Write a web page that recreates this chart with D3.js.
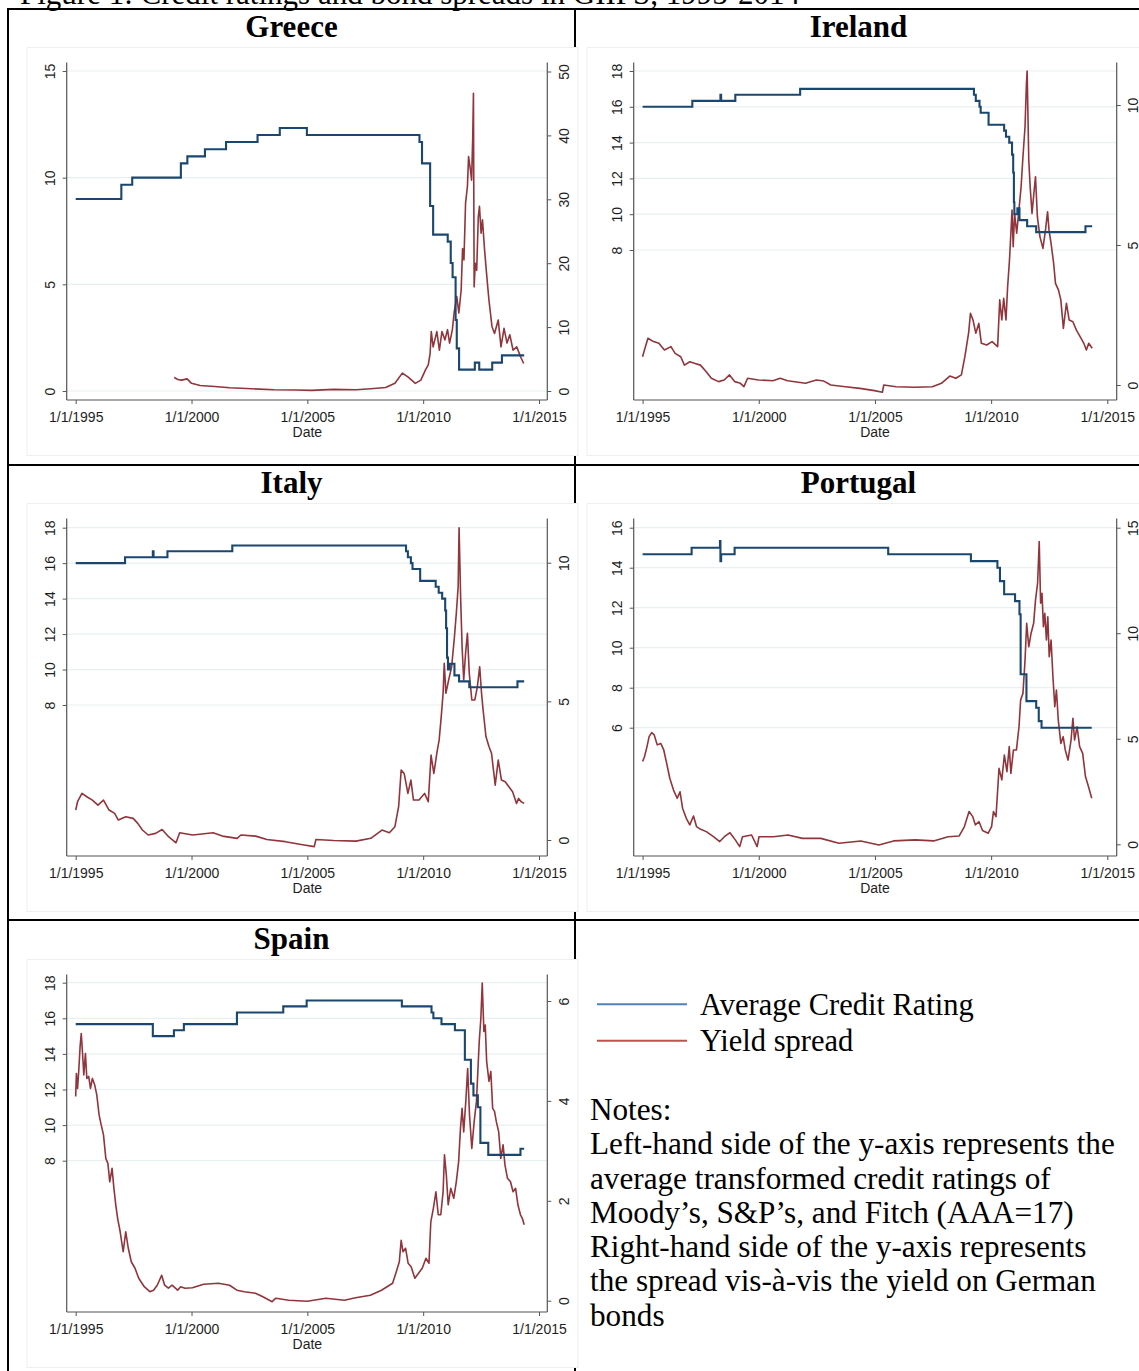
<!DOCTYPE html>
<html>
<head>
<meta charset="utf-8">
<script src="https://cdn.jsdelivr.net/npm/d3@7"></script>
<style>
  body { margin: 0; background: #fff; }
  svg { display: block; }
  .tick text { font-family: "Liberation Sans", Arial, sans-serif; font-size: 14px; fill: #1e1e1e; }
  .serif { font-family: "Liberation Serif", "Times New Roman", serif; fill: #000; }
</style>
</head>
<body>
<div id="figure"></div>
<script>
// Ticks
const xTickYears = [1995, 2000, 2005, 2010, 2015]
const greeceLeftTicks = [0, 5, 10, 15]
const greeceRightTicks = [0, 10, 20, 30, 40, 50]
const irelandLeftTicks = [8, 10, 12, 14, 16, 18]
const irelandRightTicks = [0, 5, 10]
const italyLeftTicks = [8, 10, 12, 14, 16, 18]
const italyRightTicks = [0, 5, 10]
const portugalLeftTicks = [6, 8, 10, 12, 14, 16]
const portugalRightTicks = [0, 5, 10, 15]
const spainLeftTicks = [8, 10, 12, 14, 16, 18]
const spainRightTicks = [0, 2, 4, 6]

// Average credit rating, [year, rating] at each change
const greeceRating = [[1995, 9], [1996.97, 9.67], [1997.44, 10], [1999.54, 10.67], [1999.82, 11], [2000.58, 11.33], [2001.49, 11.67], [2002.85, 12], [2003.81, 12.33], [2004.98, 12], [2009.84, 11.67], [2009.95, 10.67], [2010.3, 8.67], [2010.43, 7.33], [2011.06, 7], [2011.19, 6], [2011.27, 5.33], [2011.4, 3.33], [2011.45, 2], [2011.55, 1], [2012.23, 1.33], [2012.42, 1], [2012.98, 1.33], [2013.4, 1.67], [2014.36, 1.67]]
const irelandRating = [[1995, 16], [1997.14, 16.33], [1998.35, 16.67], [1998.38, 16.33], [1998.99, 16.67], [2001.78, 17], [2009.26, 16.67], [2009.34, 16.33], [2009.5, 16], [2009.55, 15.67], [2009.89, 15], [2010.56, 14.67], [2010.64, 14.33], [2010.78, 14], [2010.9, 13.33], [2010.95, 12.33], [2010.98, 10.67], [2011.0, 10], [2011.13, 10.33], [2011.22, 9.67], [2011.55, 9.33], [2011.94, 9], [2014.06, 9.33], [2014.35, 9.33]]
const italyRating = [[1995, 16], [1997.13, 16.33], [1998.33, 16.67], [1998.36, 16.33], [1998.96, 16.67], [2001.76, 17], [2009.26, 16.67], [2009.34, 16.33], [2009.47, 16], [2009.54, 15.67], [2009.87, 15], [2010.54, 14.67], [2010.67, 14.33], [2010.82, 14], [2010.95, 13.33], [2010.99, 12.33], [2011.03, 10.67], [2011.07, 10], [2011.15, 10.33], [2011.35, 9.67], [2011.55, 9.33], [2011.99, 9], [2014.07, 9.33], [2014.36, 9.33]]
const portugalRating = [[1995, 14.67], [1997.11, 15], [1998.33, 15.33], [1998.35, 14.33], [1998.38, 14.67], [1998.96, 15], [2005.57, 14.67], [2009.13, 14.33], [2010.27, 14], [2010.38, 13.33], [2010.56, 12.67], [2011.03, 12.33], [2011.22, 11.67], [2011.27, 8.67], [2011.52, 7.33], [2011.94, 7], [2012.05, 6.33], [2012.17, 6], [2014.33, 6]]
const spainRating = [[1995, 15.67], [1998.33, 15], [1999.24, 15.33], [1999.67, 15.67], [2001.96, 16.33], [2003.96, 16.67], [2004.97, 17], [2009.08, 16.67], [2010.36, 16.33], [2010.44, 16], [2010.79, 15.67], [2011.37, 15.33], [2011.8, 13.67], [2012.06, 12.33], [2012.17, 11.67], [2012.36, 11], [2012.47, 9], [2012.81, 8.33], [2014.2, 8.67], [2014.36, 8.67]]

// Yield spread vs German bonds, [year, spread]
const greeceSpread = [[1999.25, 2.1], [1999.41, 1.8], [1999.57, 1.7], [1999.81, 1.9], [2000.0, 1.2], [2000.37, 0.85], [2001.0, 0.7], [2001.65, 0.5], [2002.6, 0.35], [2003.57, 0.2], [2004.53, 0.15], [2005.18, 0.1], [2006.14, 0.25], [2007.1, 0.2], [2007.74, 0.35], [2008.38, 0.55], [2008.78, 1.2], [2009.1, 2.8], [2009.34, 2.2], [2009.66, 1.2], [2009.9, 1.7], [2010.1, 3.3], [2010.22, 4.1], [2010.3, 5.9], [2010.35, 9.3], [2010.43, 6.9], [2010.59, 9.3], [2010.7, 6.4], [2010.81, 9.3], [2010.94, 8.0], [2011.05, 9.6], [2011.14, 7.5], [2011.26, 9.6], [2011.34, 12.4], [2011.45, 14.8], [2011.54, 12.2], [2011.64, 15.8], [2011.7, 22.3], [2011.76, 20.5], [2011.83, 29.4], [2011.91, 32.0], [2011.96, 36.7], [2012.04, 34.6], [2012.09, 33.0], [2012.14, 39.8], [2012.17, 46.6], [2012.2, 16.3], [2012.25, 20.0], [2012.31, 18.9], [2012.38, 27.3], [2012.43, 28.9], [2012.5, 24.7], [2012.56, 26.8], [2012.65, 22.1], [2012.76, 17.4], [2012.84, 14.2], [2012.97, 10.1], [2013.08, 9.0], [2013.24, 11.1], [2013.36, 6.9], [2013.49, 9.8], [2013.62, 7.5], [2013.74, 8.8], [2013.88, 6.4], [2014.04, 6.9], [2014.2, 5.4], [2014.34, 4.3]]
const irelandSpread = [[1995.0, 1.01], [1995.08, 1.25], [1995.23, 1.67], [1995.47, 1.55], [1995.7, 1.49], [1995.94, 1.25], [1996.22, 1.37], [1996.4, 1.13], [1996.64, 1.01], [1996.8, 0.71], [1997.03, 0.83], [1997.26, 0.77], [1997.49, 0.71], [1997.73, 0.48], [1997.96, 0.24], [1998.27, 0.12], [1998.51, 0.18], [1998.74, 0.36], [1998.97, 0.12], [1999.21, 0.06], [1999.36, -0.06], [1999.52, 0.24], [1999.99, 0.18], [2000.61, 0.15], [2000.92, 0.24], [2001.24, 0.15], [2002.01, 0.06], [2002.48, 0.18], [2002.8, 0.14], [2003.1, 0.0], [2003.73, -0.06], [2004.35, -0.12], [2004.98, -0.2], [2005.32, -0.26], [2005.38, 0.0], [2005.91, -0.06], [2006.69, -0.08], [2007.47, -0.06], [2007.86, 0.06], [2008.22, 0.32], [2008.48, 0.24], [2008.72, 0.36], [2008.87, 1.01], [2009.03, 1.85], [2009.11, 2.56], [2009.22, 2.32], [2009.34, 1.85], [2009.47, 2.2], [2009.58, 1.49], [2009.81, 1.43], [2010.04, 1.55], [2010.28, 1.37], [2010.37, 3.04], [2010.46, 2.32], [2010.54, 3.1], [2010.64, 2.32], [2010.71, 3.51], [2010.79, 4.46], [2010.85, 5.42], [2010.9, 6.25], [2010.95, 4.94], [2011.01, 6.13], [2011.1, 5.42], [2011.21, 6.37], [2011.29, 7.08], [2011.37, 8.15], [2011.46, 9.23], [2011.52, 10.77], [2011.55, 11.21], [2011.62, 8.04], [2011.68, 7.08], [2011.76, 6.13], [2011.84, 6.85], [2011.91, 7.44], [2011.99, 6.01], [2012.1, 5.3], [2012.23, 4.88], [2012.34, 5.54], [2012.43, 6.19], [2012.49, 5.54], [2012.58, 5.06], [2012.69, 4.35], [2012.77, 3.63], [2012.9, 3.39], [2013.0, 3.04], [2013.11, 2.02], [2013.24, 2.92], [2013.36, 2.32], [2013.52, 2.26], [2013.67, 1.96], [2013.83, 1.73], [2013.99, 1.49], [2014.1, 1.25], [2014.2, 1.49], [2014.35, 1.31]]
const italySpread = [[1995.0, 1.08], [1995.08, 1.38], [1995.27, 1.68], [1995.48, 1.56], [1995.72, 1.44], [1995.96, 1.26], [1996.2, 1.44], [1996.44, 1.08], [1996.68, 0.96], [1996.84, 0.72], [1997.16, 0.84], [1997.48, 0.78], [1997.68, 0.6], [1997.88, 0.36], [1998.13, 0.18], [1998.45, 0.24], [1998.73, 0.38], [1999.01, 0.12], [1999.33, -0.1], [1999.49, 0.26], [2000.05, 0.18], [2000.93, 0.26], [2001.33, 0.14], [2001.97, 0.06], [2002.13, 0.18], [2002.77, 0.14], [2003.25, 0.02], [2004.05, -0.06], [2004.86, -0.18], [2005.3, -0.24], [2005.37, 0.02], [2006.14, -0.02], [2007.1, -0.04], [2007.74, 0.06], [2008.22, 0.36], [2008.54, 0.26], [2008.78, 0.48], [2008.94, 1.2], [2009.05, 2.52], [2009.18, 2.4], [2009.34, 1.68], [2009.47, 2.16], [2009.58, 1.44], [2009.82, 1.44], [2010.06, 1.68], [2010.22, 1.38], [2010.34, 3.06], [2010.46, 2.4], [2010.59, 3.13], [2010.69, 3.61], [2010.78, 4.45], [2010.86, 5.29], [2010.91, 6.37], [2010.98, 5.29], [2011.1, 5.77], [2011.23, 6.25], [2011.35, 7.33], [2011.43, 8.17], [2011.51, 9.13], [2011.55, 11.26], [2011.62, 8.65], [2011.68, 6.97], [2011.75, 5.77], [2011.83, 6.73], [2011.91, 7.45], [2011.99, 6.01], [2012.1, 5.05], [2012.23, 5.05], [2012.34, 5.53], [2012.44, 6.25], [2012.52, 5.29], [2012.58, 4.75], [2012.71, 3.73], [2012.84, 3.37], [2012.95, 3.13], [2013.11, 1.98], [2013.24, 2.88], [2013.38, 2.16], [2013.54, 2.1], [2013.7, 1.92], [2013.86, 1.74], [2014.03, 1.32], [2014.12, 1.5], [2014.23, 1.38], [2014.36, 1.32]]
const portugalSpread = [[1995.0, 3.92], [1995.08, 4.15], [1995.19, 4.63], [1995.28, 5.1], [1995.39, 5.29], [1995.5, 5.18], [1995.63, 4.71], [1995.78, 4.78], [1995.91, 4.47], [1996.02, 3.92], [1996.17, 3.13], [1996.33, 2.57], [1996.49, 2.18], [1996.61, 2.49], [1996.72, 1.71], [1996.88, 1.23], [1997.03, 0.92], [1997.19, 1.34], [1997.32, 0.84], [1997.5, 0.71], [1997.74, 0.6], [1998.05, 0.36], [1998.32, 0.13], [1998.52, 0.36], [1998.76, 0.55], [1998.99, 0.21], [1999.18, -0.11], [1999.3, 0.36], [1999.69, 0.44], [1999.93, -0.11], [2000.01, 0.36], [2000.63, 0.36], [2001.26, 0.44], [2001.88, 0.28], [2002.67, 0.28], [2003.45, 0.05], [2004.39, 0.16], [2005.17, -0.03], [2005.8, 0.16], [2006.74, 0.21], [2007.52, 0.16], [2008.15, 0.36], [2008.62, 0.39], [2008.85, 0.84], [2009.05, 1.55], [2009.21, 1.31], [2009.32, 0.92], [2009.48, 1.07], [2009.63, 0.65], [2009.87, 0.52], [2010.02, 0.84], [2010.1, 1.55], [2010.21, 1.31], [2010.34, 3.6], [2010.46, 3.05], [2010.57, 4.23], [2010.68, 3.44], [2010.78, 4.63], [2010.85, 3.36], [2010.96, 4.47], [2011.09, 4.47], [2011.2, 5.57], [2011.27, 6.84], [2011.37, 7.15], [2011.46, 8.73], [2011.53, 10.47], [2011.62, 9.36], [2011.72, 10.0], [2011.83, 10.47], [2011.91, 11.57], [2012.0, 12.36], [2012.07, 14.34], [2012.13, 11.42], [2012.19, 11.89], [2012.25, 10.31], [2012.31, 10.94], [2012.38, 9.68], [2012.44, 10.78], [2012.5, 8.89], [2012.58, 9.68], [2012.66, 7.94], [2012.74, 6.52], [2012.81, 7.31], [2012.89, 5.89], [2013.0, 4.78], [2013.1, 5.1], [2013.19, 4.47], [2013.31, 3.99], [2013.44, 4.94], [2013.52, 5.97], [2013.59, 4.94], [2013.7, 5.57], [2013.81, 4.63], [2013.94, 4.31], [2014.06, 3.21], [2014.17, 2.81], [2014.33, 2.18]]
const spainSpread = [[1995.0, 4.09], [1995.03, 4.55], [1995.08, 4.25], [1995.13, 4.59], [1995.19, 5.09], [1995.24, 5.35], [1995.3, 4.92], [1995.35, 4.52], [1995.42, 4.95], [1995.48, 4.45], [1995.56, 4.49], [1995.64, 4.25], [1995.72, 4.45], [1995.82, 4.32], [1995.91, 4.12], [1996.01, 3.72], [1996.1, 3.52], [1996.2, 3.32], [1996.3, 2.85], [1996.39, 2.75], [1996.47, 2.38], [1996.57, 2.65], [1996.65, 2.25], [1996.73, 1.92], [1996.81, 1.65], [1996.92, 1.38], [1997.05, 0.98], [1997.16, 1.38], [1997.27, 1.05], [1997.4, 0.78], [1997.56, 0.65], [1997.72, 0.45], [1997.96, 0.28], [1998.2, 0.18], [1998.36, 0.21], [1998.52, 0.31], [1998.71, 0.51], [1998.84, 0.31], [1999.0, 0.25], [1999.16, 0.31], [1999.4, 0.21], [1999.53, 0.28], [1999.72, 0.25], [2000.04, 0.26], [2000.52, 0.33], [2001.16, 0.35], [2001.64, 0.31], [2001.96, 0.21], [2002.28, 0.18], [2002.76, 0.15], [2003.08, 0.08], [2003.48, -0.02], [2003.64, 0.05], [2004.2, 0.01], [2005.0, -0.01], [2005.8, 0.05], [2006.6, 0.01], [2007.08, 0.06], [2007.72, 0.11], [2008.2, 0.21], [2008.68, 0.35], [2008.84, 0.58], [2008.97, 0.78], [2009.05, 1.21], [2009.13, 0.98], [2009.24, 1.05], [2009.35, 0.75], [2009.48, 0.68], [2009.64, 0.45], [2009.8, 0.55], [2009.96, 0.65], [2010.12, 0.85], [2010.25, 0.75], [2010.33, 1.58], [2010.44, 1.85], [2010.55, 2.18], [2010.65, 1.72], [2010.76, 1.72], [2010.86, 2.18], [2010.92, 2.92], [2011.0, 2.52], [2011.08, 1.92], [2011.19, 2.25], [2011.32, 2.05], [2011.43, 2.38], [2011.53, 2.78], [2011.61, 3.45], [2011.68, 3.85], [2011.75, 3.38], [2011.84, 3.99], [2011.92, 4.65], [2012.0, 3.72], [2012.1, 3.05], [2012.2, 3.58], [2012.3, 3.99], [2012.36, 4.59], [2012.42, 5.19], [2012.49, 5.65], [2012.55, 6.36], [2012.62, 5.39], [2012.68, 5.52], [2012.74, 4.79], [2012.84, 4.39], [2012.92, 4.59], [2013.0, 3.85], [2013.08, 3.79], [2013.16, 3.58], [2013.26, 3.38], [2013.35, 2.85], [2013.45, 3.12], [2013.53, 2.72], [2013.64, 2.45], [2013.77, 2.38], [2013.88, 2.18], [2013.99, 2.25], [2014.09, 1.92], [2014.2, 1.72], [2014.28, 1.65], [2014.36, 1.52]]

const figureTitle = "Figure 1: Credit ratings and bond spreads in GIIPS, 1995-2014"
const legendLabels = ["Average Credit Rating", "Yield spread"]
const noteLines = [
  "Notes:",
  "Left-hand side of the y-axis represents the",
  "average transformed credit ratings of",
  "Moody\u2019s, S&P\u2019s, and Fitch (AAA=17)",
  "Right-hand side of the y-axis represents",
  "the spread vis-\u00e0-vis the yield on German",
  "bonds"
]

// Layout (pixels)
const width = 1139
const height = 1371
const ratingColour = "#1a476f"
const spreadColour = "#90353b"
const rowOffsets = [0, 456, 912]
const columns = [
  { axisLeft: 66.7, axisRight: 547.3, x0: 75.7, x1: 539, center: 291.5, img: [27, 578] },
  { axisLeft: 633.7, axisRight: 1116.7, x0: 642.6, x1: 1107.3, center: 858.5, img: [587, 1150] }
]

const panels = [
  { name: "Greece", col: 0, row: 0, rating: greeceRating, spread: greeceSpread,
    leftTicks: greeceLeftTicks, rightTicks: greeceRightTicks,
    leftMap: [[0, 15], [391, 71]], rightMap: [[0, 50], [391, 71.5]] },
  { name: "Ireland", col: 1, row: 0, rating: irelandRating, spread: irelandSpread,
    leftTicks: irelandLeftTicks, rightTicks: irelandRightTicks,
    leftMap: [[8, 18], [250, 71]], rightMap: [[0, 10], [385, 105]] },
  { name: "Italy", col: 0, row: 1, rating: italyRating, spread: italySpread,
    leftTicks: italyLeftTicks, rightTicks: italyRightTicks,
    leftMap: [[8, 18], [249, 71.7]], rightMap: [[0, 10], [384, 106.7]] },
  { name: "Portugal", col: 1, row: 1, rating: portugalRating, spread: portugalSpread,
    leftTicks: portugalLeftTicks, rightTicks: portugalRightTicks,
    leftMap: [[6, 16], [271.7, 71.7]], rightMap: [[0, 15], [388.3, 71.7]] },
  { name: "Spain", col: 0, row: 2, rating: spainRating, spread: spainSpread,
    leftTicks: spainLeftTicks, rightTicks: spainRightTicks,
    leftMap: [[8, 18], [248.7, 70.7]], rightMap: [[0, 6], [388.7, 89]] }
]

const svg = d3.select("#figure")
  .append("svg")
    .attr("width", width)
    .attr("height", height)

svg.append("rect").attr("width", width).attr("height", height).attr("fill", "#fff")

// Titulo de la figura (cortado arriba)
svg.append("text")
  .attr("class", "serif")
  .attr("x", 20)
  .attr("y", 4)
  .style("font-size", "31px")
  .text(figureTitle)

// Lineas de la tabla
const table = svg.append("g").attr("stroke", "#000").attr("stroke-width", 2)
table.append("line").attr("x1", 7).attr("x2", width).attr("y1", 9).attr("y2", 9)
table.append("line").attr("x1", 8).attr("x2", 8).attr("y1", 8).attr("y2", height)
table.append("line").attr("x1", 7).attr("x2", width).attr("y1", 465).attr("y2", 465)
table.append("line").attr("x1", 7).attr("x2", width).attr("y1", 920).attr("y2", 920)
table.append("line").attr("x1", 575).attr("x2", 575).attr("y1", 9).attr("y2", height)

const drawPanel = (p) => {
  const c = columns[p.col]
  const g = svg.append("g").attr("transform", `translate(0,${rowOffsets[p.row]})`)

  // Fondo de la imagen del grafico
  g.append("rect")
    .attr("x", c.img[0])
    .attr("y", 47.5)
    .attr("width", c.img[1] - c.img[0])
    .attr("height", 408)
    .attr("fill", "#fff")
    .attr("stroke", "#efefef")

  // Titulo del pais
  g.append("text")
    .attr("class", "serif")
    .attr("x", c.center)
    .attr("y", 36.5)
    .attr("text-anchor", "middle")
    .style("font-size", "31px")
    .style("font-weight", "bold")
    .text(p.name)

  const x = d3.scaleLinear().domain([1995, 2015]).range([c.x0, c.x1])
  const yLeft = d3.scaleLinear().domain(p.leftMap[0]).range(p.leftMap[1])
  const yRight = d3.scaleLinear().domain(p.rightMap[0]).range(p.rightMap[1])

  const top = 62.5
  const bottom = 400

  // Grid
  g.append("g").selectAll("line")
    .data(p.leftTicks)
    .join("line")
      .attr("x1", c.axisLeft)
      .attr("x2", c.axisRight)
      .attr("y1", d => yLeft(d))
      .attr("y2", d => yLeft(d))
      .attr("stroke", "#e8f0f1")
      .attr("stroke-width", 1.2)

  // Ejes
  const leftAxis = g.append("g")
    .attr("transform", `translate(${c.axisLeft},0)`)
    .call(d3.axisLeft(yLeft).tickValues(p.leftTicks).tickSize(4).tickFormat(d3.format("d")))
  leftAxis.selectAll(".tick text")
    .attr("transform", "rotate(-90)")
    .attr("x", 0)
    .attr("y", -11.5)
    .attr("dy", 0)
    .attr("text-anchor", "middle")

  const rightAxis = g.append("g")
    .attr("transform", `translate(${c.axisRight},0)`)
    .call(d3.axisRight(yRight).tickValues(p.rightTicks).tickSize(4).tickFormat(d3.format("d")))
  rightAxis.selectAll(".tick text")
    .attr("transform", "rotate(-90)")
    .attr("x", 0)
    .attr("y", 21.5)
    .attr("dy", 0)
    .attr("text-anchor", "middle")

  g.append("g")
    .attr("transform", `translate(0,${bottom})`)
    .call(d3.axisBottom(x).tickValues(xTickYears).tickSize(4).tickPadding(8.5).tickFormat(d => "1/1/" + d))

  g.selectAll(".domain").remove()
  g.selectAll(".tick line").attr("stroke", "#555")

  const axisLines = g.append("g").attr("stroke", "#555").attr("stroke-width", 1.2)
  axisLines.append("line").attr("x1", c.axisLeft).attr("x2", c.axisLeft).attr("y1", top).attr("y2", bottom)
  axisLines.append("line").attr("x1", c.axisRight).attr("x2", c.axisRight).attr("y1", top).attr("y2", bottom)
  axisLines.append("line").attr("x1", c.axisLeft).attr("x2", c.axisRight).attr("y1", bottom).attr("y2", bottom)

  g.append("text")
    .attr("x", x(2005))
    .attr("y", 436.5)
    .attr("text-anchor", "middle")
    .style("font-family", "'Liberation Sans', Arial, sans-serif")
    .style("font-size", "14px")
    .attr("fill", "#1e1e1e")
    .text("Date")

  // Series
  const ratingLine = d3.line()
    .x(d => x(d[0]))
    .y(d => yLeft(d[1]))
    .curve(d3.curveStepAfter)

  const spreadLine = d3.line()
    .x(d => x(d[0]))
    .y(d => yRight(d[1]))

  g.append("path")
    .datum(p.spread)
    .attr("d", spreadLine)
    .attr("fill", "none")
    .attr("stroke", spreadColour)
    .attr("stroke-width", 1.6)
    .attr("stroke-linejoin", "round")

  g.append("path")
    .datum(p.rating)
    .attr("d", ratingLine)
    .attr("fill", "none")
    .attr("stroke", ratingColour)
    .attr("stroke-width", 2.1)
}

panels.forEach(drawPanel)

// Leyenda
const legend = svg.append("g")
legend.selectAll("line")
  .data(legendLabels)
  .join("line")
    .attr("x1", 597)
    .attr("x2", 687)
    .attr("y1", (_, i) => 1004.3 + i * 36.4)
    .attr("y2", (_, i) => 1004.3 + i * 36.4)
    .attr("stroke", (_, i) => i === 0 ? "#4f81bd" : "#c0504d")
    .attr("stroke-width", 2)
legend.selectAll("text")
  .data(legendLabels)
  .join("text")
    .attr("class", "serif")
    .attr("x", 700)
    .attr("y", (_, i) => 1015 + i * 36)
    .style("font-size", "30.5px")
    .text(d => d)

// Notas
svg.append("g").selectAll("text")
  .data(noteLines)
  .join("text")
    .attr("class", "serif")
    .attr("x", 590)
    .attr("y", (_, i) => 1120 + i * 34.25)
    .style("font-size", "31.2px")
    .text(d => d)
</script>
</body>
</html>
